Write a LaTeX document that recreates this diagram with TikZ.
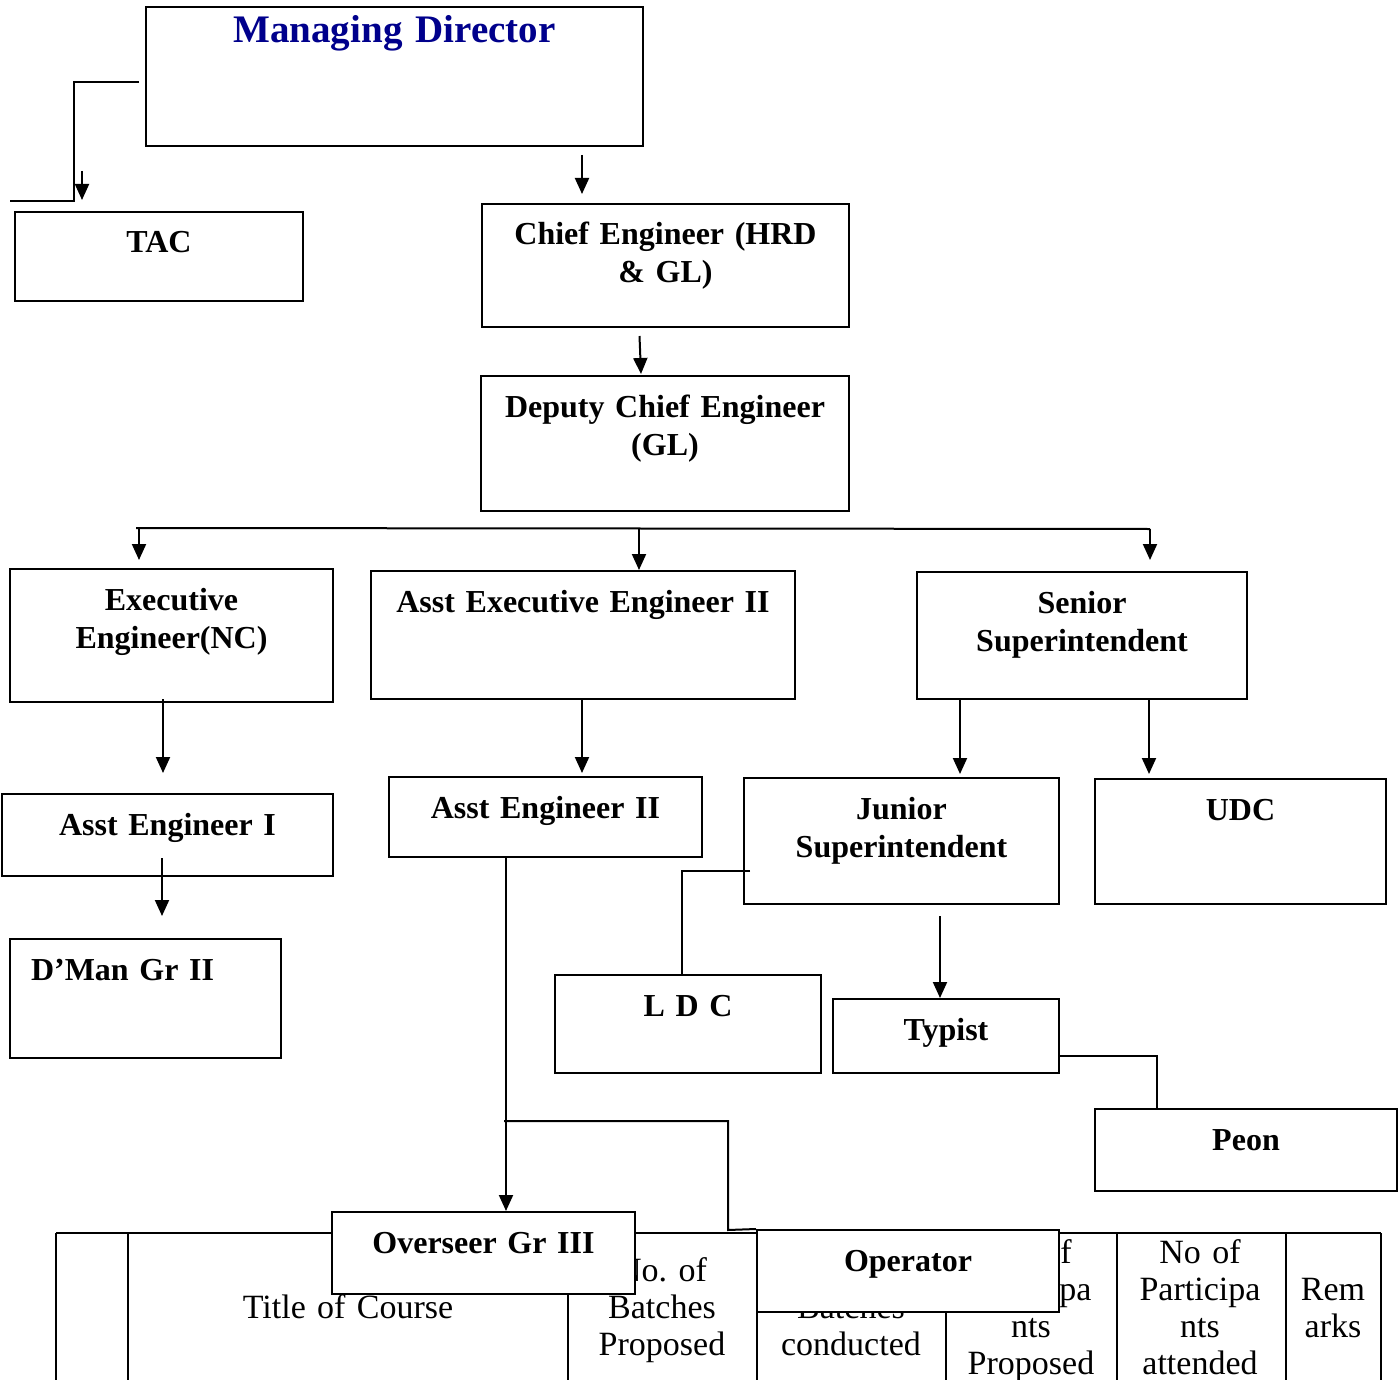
\documentclass[tikz,border=0pt]{standalone}
\usepackage{fontspec}
\setmainfont{Liberation Serif}
\frenchspacing
\usetikzlibrary{arrows.meta}
\usetikzlibrary{calc}
\definecolor{mdblue}{RGB}{0,0,140}
\tikzset{%
  post/.style = {draw,line width=2pt,fill=white,inner sep=0pt,
        align=center,text height=41pt,
        font=\bfseries\fontsize{32}{38}\selectfont},
  conn/.style = {line width=2pt},
  arr/.style = {line width=2pt,-{Triangle[width=14pt,length=16pt]}},
  grid/.style = {line width=2pt},
  hdr/.style = {inner sep=0pt,align=center,anchor=north,text height=23pt,
        text width=160pt,font=\fontsize{34}{37}\selectfont}
}

\begin{document}
\begin{tikzpicture}[x=1pt,y=-1pt]
\useasboundingbox (0,0) rectangle (1400,1380);

% table underneath
\draw[grid] (56,1233) -- (1381,1233);
\foreach \x in {56,128,568,757,946,1117,1286,1381}
    \draw[grid] (\x,1233) -- (\x,1395);
\node[hdr,text width=400pt] (tcourse) at (348,1295) {Title of Course};
\node[hdr] (tbprop) at (662,1258) {No. of\\Batches\\Proposed};
\node[hdr] (tbcond) at (851,1258) {No. of\\Batches\\conducted};
\node[hdr] (tpprop) at (1031,1240) {No of\\Participa\\nts\\Proposed};
\node[hdr] (tpatt) at (1200,1240) {No of\\Participa\\nts\\attended};
\node[hdr] (trem) at (1333,1277) {Rem\\arks};

% posts
\node[post,text width=497pt,text height=36pt,text depth=103pt,
    font=\bfseries\fontsize{39}{44}\selectfont,text=mdblue] (md) at (394.5,76.5) {Managing Director};
\node[post,text width=288pt,text depth=48pt] (tac) at (159,256.5) {TAC};
\node[post,text width=367pt,text depth=82pt] (chief) at (665.5,265.5) {Chief Engineer (HRD\\\& GL)};
\node[post,text width=368pt,text depth=94pt] (dep) at (665,443.5) {Deputy Chief Engineer\\(GL)};
\node[post,text width=323pt,text depth=92pt] (exec) at (171.5,635.5) {Executive\\Engineer(NC)};
\node[post,text width=424pt,text depth=87pt] (aexec) at (583,635) {Asst Executive Engineer II};
\node[post,text width=330pt,text depth=86pt] (senior) at (1082,635.5) {Senior\\Superintendent};
\node[post,text width=331pt,text depth=41pt] (aeng1) at (167.5,835) {Asst Engineer I};
\node[post,text width=313pt,text depth=39pt] (aeng2) at (545.5,817) {Asst Engineer II};
\node[post,text width=315pt,text depth=85pt] (junior) at (901.5,841) {Junior\\Superintendent};
\node[post,text width=291pt,text depth=84pt] (udc) at (1240.5,841.5) {UDC};
\node[post,align=left,inner xsep=21pt,text width=229pt,text depth=78pt] (dman) at (145.5,998.5) {D’Man Gr II};
\node[post,text width=266pt,text depth=57pt] (ldc) at (688,1024) {L D C};
\node[post,text width=226pt,text depth=33pt] (typist) at (946,1036) {Typist};
\node[post,text width=302pt,text depth=41pt] (peon) at (1246,1150) {Peon};
\node[post,text width=303pt,text depth=41pt] (ovs) at (483.5,1253) {Overseer Gr III};
\node[post,text width=302pt,text depth=41pt] (op) at (908,1271) {Operator};

% connectors
\coordinate (mdl) at (139,82);
\coordinate (tacbend) at (74,201);
\coordinate (tacl) at (10,201);
\draw[conn] (mdl) -| (tacbend) -- (tacl);
\draw[arr] ($(tac.north)+(-77,-40)$) -- ++(0,29);
\draw[arr] ($(md.south)+(187.5,8)$) -- ++(0,39);
\draw[arr] ($(chief.south)+(-26,8)$) -- ($(dep.north)+(-24,-1)$);
\coordinate (hl) at (136,528);
\coordinate (hr) at (1150,529);
\draw[conn] (hl) -- (hr);
\draw[arr] ($(hl)+(3,0)$) -- ($(exec.north)+(-32.5,-8)$);
\draw[arr] ($(hl)+(503,0)$) -- ($(aexec.north)+(56,0)$);
\draw[arr] (hr) -- ($(senior.north)+(68,-11)$);
\draw[arr] ($(exec.south)+(-8.5,-4)$) -- ++(0,74);
\draw[arr] ($(aeng1.south)+(-5.5,-19)$) -- ++(0,58);
\draw[arr] ($(aexec.south)+(-1,0)$) -- ($(aeng2.north)+(36.5,-3)$);
\draw[arr] ($(senior.south)+(-122,0)$) -- ($(junior.north)+(58.5,-3)$);
\draw[arr] ($(senior.south)+(67,0)$) -- ($(udc.north)+(-91.5,-4)$);
\draw[arr] ($(aeng2.south)+(-39.5,0)$) -- ($(ovs.north)+(22.5,0)$);
\coordinate (opb) at (504,1121);
\coordinate (opbend) at (728,1230);
\draw[conn] (opb) -| (opbend) -- (op.north west);
\coordinate (ldcl) at (750,871);
\draw[conn] (ldcl) -| ($(ldc.north)+(-6,0)$);
\draw[arr] ($(junior.south)+(38.5,11)$) -- ($(typist.north)+(-6,0)$);
\draw[conn] ($(typist.east)+(0,20)$) -| ($(peon.north)+(-89,0)$);
\end{tikzpicture}
\end{document}
